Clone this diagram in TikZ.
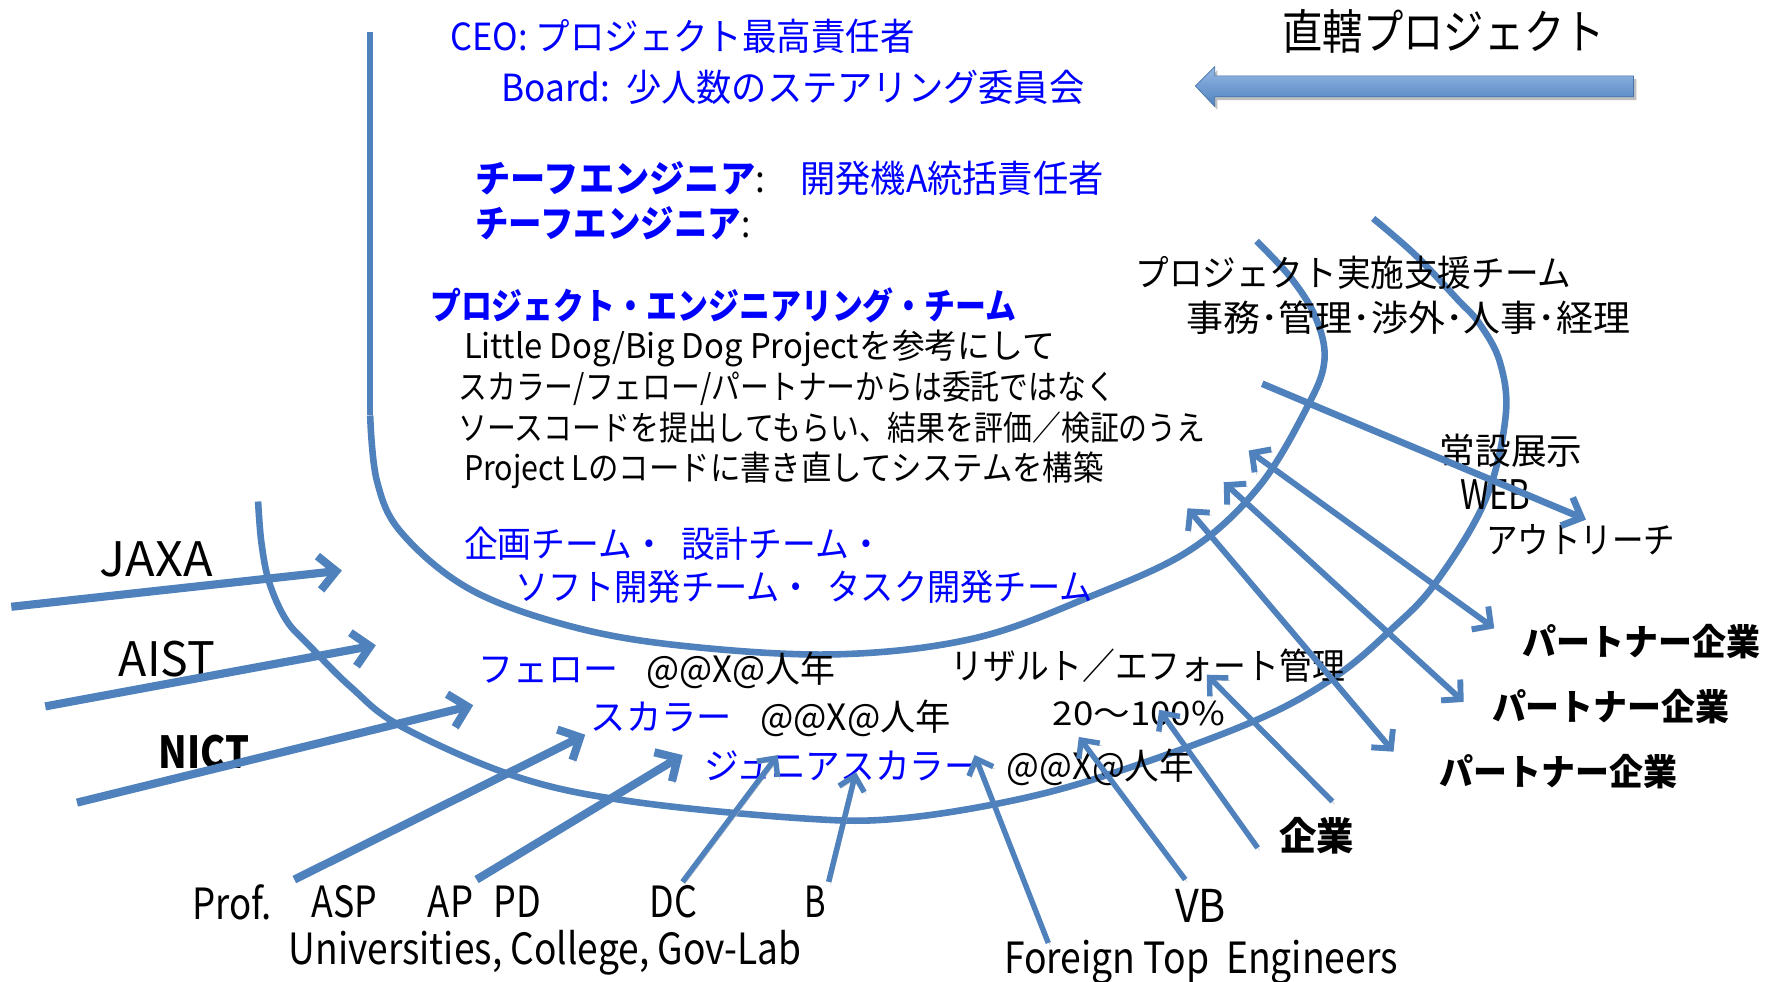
\documentclass[tikz,border=0pt]{standalone}
\usepackage{fontspec}
\usepackage{graphicx}
\setmainfont{Noto Sans CJK JP}
\usetikzlibrary{arrows.meta}
\definecolor{ln}{RGB}{79,129,189}
\definecolor{tb}{RGB}{0,0,255}
\definecolor{lite}{RGB}{149,185,230}
\newcommand\fw[2]{\resizebox{#1pt}{\height}{#2}}
\newcommand\fsz[1]{\fontsize{#1pt}{#1pt}\selectfont}
\tikzset{
  txt/.style={anchor=west, inner sep=0pt, outer sep=0pt},
  shd/.style={preaction={draw=black!25, transform canvas={shift={(1.8pt,-2.2pt)}}}},
  bowl/.style={draw=ln, line width=5.8pt, shd},
  fatarr/.style={draw=ln, line width=7.2pt, shd, -{Straight Barb[length=15pt,width=30pt]}},
  midarr/.style={draw=ln, line width=6pt, shd, -{Straight Barb[length=14pt,width=27pt]}},
  thinarr/.style={draw=ln, line width=4.8pt, shd, -{Straight Barb[length=12pt,width=23pt]}},
  dblarr/.style={draw=ln, line width=5.2pt, shd, {Straight Barb[length=12pt,width=25pt]}-{Straight Barb[length=12pt,width=25pt]}}
}
\begin{document}
\begin{tikzpicture}[x=1pt,y=-1pt]
\useasboundingbox (0,0) rectangle (1568,867);
\fill[white] (0,0) rectangle (1568,867);

% block arrow
\fill[black!25] (1445.5,70) -- (1075.5,70) -- (1075.5,62) -- (1058.5,79) -- (1075.5,97) -- (1075.5,88.5) -- (1445.5,88.5) -- cycle;
\shade[top color=lite, bottom color=ln, draw=ln!90!black, line width=0.6pt]
  (1443,67) -- (1073,67) -- (1073,59) -- (1056,76) -- (1073,94) -- (1073,85.5) -- (1443,85.5) -- cycle;

% bowls
\draw[bowl] (327,28) -- (327,367);
\draw[bowl] plot[smooth, tension=0.6] coordinates {(327,367) (333,425) (355,471) (416,521) (507,554) (608,571) (740,578) (860,564) (963,527) (1051,486) (1112,430) (1155,359) (1170,318) (1162,280) (1140,245) (1110,213)};
\draw[bowl] plot[smooth, tension=0.6] coordinates {(228,443) (231,480) (238,515) (253,548) (274,571) (310,607) (355,642) (456,686) (558,708) (710,723) (795,723) (900,706) (992,680) (1110,636) (1179,598) (1229,556) (1268,515) (1312,442) (1330,368) (1325,320) (1307,286) (1288,265) (1250,225) (1213,193)};

% texts
\node[txt] (title) at (1133,28) {\fsz{42}\fw{285}{直轄プロジェクト}};
\node[txt,text=tb] (ceo) at (398,32) {\fsz{33}\fw{410}{CEO:\ プロジェクト最高責任者}};
\node[txt,text=tb] (board) at (443,77) {\fsz{33}\fw{515}{Board:\ \ 少人数のステアリング委員会}};
\node[txt] (chief1) at (420,158) {\fsz{33}\fw{555}{\textcolor{tb}{\bfseries チーフエンジニア}:\hspace{1em}\textcolor{tb}{開発機A統括責任者}}};
\node[txt] (chief2) at (420,197) {\fsz{33}\fw{243}{\textcolor{tb}{\bfseries チーフエンジニア}:}};
\node[txt,text=tb] (pet) at (380,270) {\fsz{32}\bfseries\fw{518}{プロジェクト・エンジニアリング・チーム}};
\node[txt] (l1) at (410,308) {\fsz{30}\fw{522}{Little Dog/Big Dog Projectを参考にして}};
\node[txt] (l2) at (405,343) {\fsz{30}\fw{580}{スカラー/フェロー/パートナーからは委託ではなく}};
\node[txt] (l3) at (405,378) {\fsz{30}\fw{660}{ソースコードを提出してもらい、結果を評価／検証のうえ}};
\node[txt] (l4) at (410,415) {\fsz{30}\fw{565}{Project Lのコードに書き直してシステムを構築}};
\node[txt,text=tb] (team1) at (410,480) {\fsz{32}\fw{370}{企画チーム・\ \ 設計チーム・}};
\node[txt,text=tb] (team2) at (455,518) {\fsz{32}\fw{510}{ソフト開発チーム・\ \ タスク開発チーム}};
\node[txt] (sup1) at (1003,241) {\fsz{32}\fw{385}{プロジェクト実施支援チーム}};
\node[txt] (sup2) at (1048,281) {\fsz{32}\fw{392}{事務･管理･渉外･人事･経理}};
\node[txt] (exh) at (1272,398) {\fsz{32}\fw{126}{常設展示}};
\node[txt] (web) at (1290,437) {\fsz{36}\fw{62}{WEB}};
\node[txt] (outr) at (1313,477) {\fsz{32}\fw{167}{アウトリーチ}};
\node[txt] (pa1) at (1345,567) {\fsz{32}\bfseries\fw{210}{パートナー企業}};
\node[txt] (pa2) at (1318,624) {\fsz{32}\bfseries\fw{210}{パートナー企業}};
\node[txt] (pa3) at (1272,682) {\fsz{32}\bfseries\fw{210}{パートナー企業}};
\node[txt] (jaxa) at (88,494) {\fsz{42}\fw{100}{JAXA}};
\node[txt] (aist) at (105,582) {\fsz{42}\fw{85}{AIST}};
\node[txt] (nict) at (140,664) {\fsz{39}\bfseries\fw{80}{NICT}};
\node[txt] (fel) at (423,592) {\fsz{32}\fw{315}{\textcolor{tb}{フェロー}\hspace{0.8em}@@X@人年}};
\node[txt] (sch) at (522,635) {\fsz{32}\fw{318}{\textcolor{tb}{スカラー}\hspace{0.8em}@@X@人年}};
\node[txt] (jun) at (622,678) {\fsz{32}\fw{433}{\textcolor{tb}{ジュニアスカラー}\hspace{0.8em}@@X@人年}};
\node[txt] (res) at (840,588) {\fsz{32}\fw{348}{リザルト／エフォート管理}};
\node[txt] (pct) at (930,630) {\fsz{29}\fw{152}{20～100\%}};
\node[txt] (prof) at (170,797) {\fsz{38}\fw{70}{Prof.}};
\node[txt] (asp) at (275,797) {\fsz{38}\fw{58}{ASP}};
\node[txt] (ap) at (378,797) {\fsz{38}\fw{40}{AP}};
\node[txt] (pd) at (436,797) {\fsz{38}\fw{42}{PD}};
\node[txt] (dc) at (574,797) {\fsz{38}\fw{42}{DC}};
\node[txt] (bb) at (711,797) {\fsz{38}\fw{19}{B}};
\node[txt] (univ) at (255,842) {\fsz{38}\fw{453}{Universities, College, Gov-Lab}};
\node[txt] (corp) at (1130,738) {\fsz{34}\bfseries\fw{66}{企業}};
\node[txt] (vb) at (1038,800) {\fsz{40}\fw{45}{VB}};
\node[txt] (fte) at (887,850) {\fsz{38}\fw{348}{Foreign Top\ \ Engineers}};

% arrow end points
\coordinate (jaxaS) at (10,536);   \coordinate (jaxaE) at (302,504);
\coordinate (aistS) at (40,624);   \coordinate (aistE) at (332,570);
\coordinate (nictS) at (68,709);   \coordinate (nictE) at (418,623);
\coordinate (profS) at (260,777);  \coordinate (profE) at (517,649);
\coordinate (apS) at (421,777);    \coordinate (apE) at (603,667);
\coordinate (dcS) at (603,779);    \coordinate (dcE) at (687,667);
\coordinate (bS) at (732,779);     \coordinate (bE) at (756,682);
\coordinate (fteS) at (926,833);   \coordinate (fteE) at (861,667);
\coordinate (vbS) at (1047,777);   \coordinate (vbE) at (953,651);
\coordinate (coAS) at (1177,708);  \coordinate (coAE) at (1066,596);
\coordinate (coBS) at (1111,749);  \coordinate (coBE) at (1024,627);
\coordinate (outS) at (1115,339);  \coordinate (outE) at (1401,459);
\coordinate (p1A) at (1103,398);   \coordinate (p1B) at (1320,555);
\coordinate (p2A) at (1081,426);   \coordinate (p2B) at (1293,620);
\coordinate (p3A) at (1049,449);   \coordinate (p3B) at (1231,664);

\draw[fatarr] (jaxaS) -- (jaxaE);
\draw[fatarr] (aistS) -- (aistE);
\draw[fatarr] (nictS) -- (nictE);
\draw[fatarr] (profS) -- (profE);
\draw[fatarr] (apS) -- (apE);
\draw[thinarr] (dcS) -- (dcE);
\draw[thinarr] (bS) -- (bE);
\draw[thinarr] (fteS) -- (fteE);
\draw[thinarr] (vbS) -- (vbE);
\draw[thinarr] (coAS) -- (coAE);
\draw[thinarr] (coBS) -- (coBE);
\draw[midarr] (outS) -- (outE);
\draw[dblarr] (p1A) -- (p1B);
\draw[dblarr] (p2A) -- (p2B);
\draw[dblarr] (p3A) -- (p3B);
\end{tikzpicture}
\end{document}
